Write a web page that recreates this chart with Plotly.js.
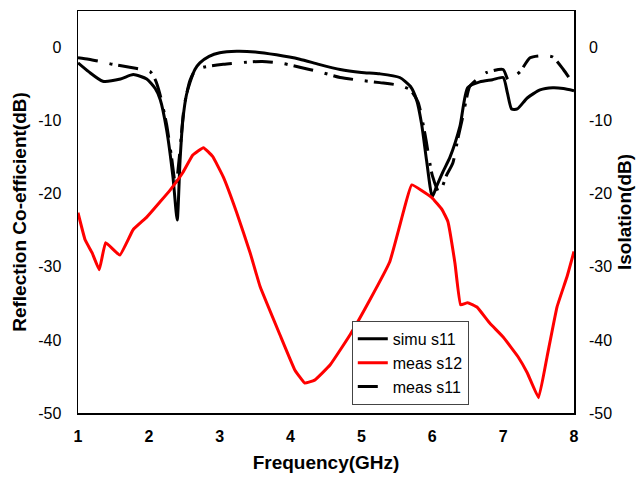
<!DOCTYPE html>
<html><head><meta charset="utf-8">
<script src="https://cdn.plot.ly/plotly-3.0.1.min.js"></script>
<style>html,body{margin:0;padding:0;background:#fff}#plot{width:638px;height:481px}</style>
</head><body><div id="plot"></div>
<script>
const simuX = [1.0,1.15,1.35,1.6,1.78,1.97,2.09,2.16,2.25,2.34,2.4,2.44,2.48,2.53,2.58,2.65,2.72,2.85,3.0,3.24,3.5,3.8,4.13,4.4,4.7,5.0,5.26,5.54,5.69,5.78,5.85,5.92,6.0,6.06,6.15,6.25,6.39,6.5,6.67,6.85,7.0,7.06,7.12,7.2,7.34,7.52,7.7,7.85,8.0];
const simuY = [-2.1,-3.3,-4.6,-4.3,-3.7,-4.3,-5.6,-7.1,-11.2,-17.7,-23.6,-15.5,-9.9,-6.5,-4.8,-3.0,-2.1,-1.2,-0.7,-0.5,-0.6,-1.0,-1.6,-2.3,-3.0,-3.4,-3.6,-4.1,-5.3,-7.2,-10.5,-15.5,-20.4,-19.0,-17.0,-15.0,-10.8,-5.5,-4.7,-4.4,-4.1,-6.2,-8.4,-8.4,-6.9,-5.8,-5.5,-5.6,-5.9];

const measS11X = [1.0,1.15,1.31,1.49,1.73,1.9,2.02,2.09,2.16,2.25,2.32,2.38,2.43,2.5,2.58,2.65,2.77,3.05,3.38,3.6,3.9,4.13,4.4,4.7,5.0,5.26,5.55,5.69,5.8,5.9,6.0,6.1,6.2,6.29,6.36,6.43,6.53,6.65,6.77,7.0,7.07,7.15,7.24,7.38,7.56,7.7,7.85,7.97];
const measS11Y = [-1.4,-1.6,-1.9,-2.3,-2.7,-3.0,-3.3,-4.4,-6.5,-10.5,-15.0,-19.0,-15.0,-8.0,-4.5,-3.2,-2.7,-2.3,-2.0,-1.9,-2.2,-2.7,-3.3,-4.1,-4.5,-4.8,-5.2,-5.8,-7.5,-12.0,-17.5,-19.9,-17.5,-15.8,-12.5,-9.5,-5.3,-4.2,-3.4,-3.0,-4.4,-4.0,-3.3,-1.4,-1.1,-1.3,-3.0,-4.7];

const measS12X = [1.0,1.1,1.2,1.3,1.39,1.59,1.78,1.97,2.15,2.3,2.48,2.62,2.77,2.9,3.05,3.24,3.43,3.57,3.85,4.06,4.2,4.34,4.56,4.84,5.12,5.4,5.6,5.71,5.99,6.14,6.22,6.32,6.4,6.5,6.63,6.81,7.0,7.21,7.34,7.5,7.62,7.76,7.9,8.0];
const measS12Y = [-22.6,-26.3,-28.1,-30.4,-26.7,-28.4,-24.9,-23.2,-21.2,-19.5,-17.1,-14.7,-13.7,-14.9,-17.7,-22.6,-28.1,-32.7,-39.3,-44.1,-45.9,-45.5,-43.4,-39.3,-34.5,-29.3,-22.2,-18.8,-20.5,-22.2,-23.8,-29.5,-35.2,-34.9,-35.5,-37.7,-39.6,-42.3,-44.5,-47.9,-42.3,-35.5,-31.4,-27.9];

const xTicks = [1,2,3,4,5,6,7,8];
const yTicks = [0,-10,-20,-30,-40,-50];

const traces = [
  {x: simuX, y: simuY, name: 'simu s11', mode: 'lines', line: {color: '#000', width: 3, shape: 'spline', smoothing: 0.6}},
  {x: measS12X, y: measS12Y, name: 'meas s12', mode: 'lines', yaxis: 'y2', line: {color: '#ff0000', width: 3, shape: 'spline', smoothing: 0.3}},
  {x: measS11X, y: measS11Y, name: 'meas s11', mode: 'lines', line: {color: '#000', width: 3, dash: '20px,12px,3px,6px', shape: 'spline', smoothing: 0.6}}
];

const font = {family: 'Liberation Sans, Arial, sans-serif', color: '#000'};
const layout = {
  width: 638, height: 481,
  margin: {l: 78, r: 64, t: 11, b: 68},
  paper_bgcolor: '#fff', plot_bgcolor: '#fff',
  showlegend: true,
  legend: {x: 0.552, y: 0.229, xanchor: 'left', yanchor: 'top', bgcolor: '#fff', bordercolor: '#444', borderwidth: 1,
           font: {family: font.family, size: 16, color: '#000'}, tracegroupgap: 0},
  xaxis: {range: [1, 8], tickvals: xTicks, ticktext: xTicks.map(String), showgrid: false, zeroline: false,
          showline: true, linecolor: '#000', linewidth: 1.5, mirror: true, ticks: '', ticklabelstandoff: 8,
          tickfont: {family: font.family, size: 16, color: '#000', weight: 'bold'},
          title: {text: 'Frequency(GHz)', font: {family: font.family, size: 19, color: '#000', weight: 'bold'}, standoff: 12}},
  yaxis: {range: [-50, 5], tickvals: yTicks, ticktext: yTicks.map(String), showgrid: false, zeroline: false,
          showline: true, linecolor: '#000', linewidth: 1.5, mirror: true, ticks: '', ticklabelstandoff: 12,
          tickfont: {family: font.family, size: 16, color: '#000'},
          title: {text: 'Reflection Co-efficient(dB)', font: {family: font.family, size: 19, color: '#000', weight: 'bold'}, standoff: 6}},
  yaxis2: {range: [-50, 5], overlaying: 'y', side: 'right', tickvals: yTicks, ticktext: yTicks.map(String), showgrid: false, zeroline: false,
           showline: false, ticks: '', ticklabelstandoff: 14,
           tickfont: {family: font.family, size: 16, color: '#000'},
           title: {text: 'Isolation(dB)', font: {family: font.family, size: 19, color: '#000', weight: 'bold'}, standoff: 6}}
};
Plotly.newPlot('plot', traces, layout, {displayModeBar: false, staticPlot: true});
</script></body></html>
